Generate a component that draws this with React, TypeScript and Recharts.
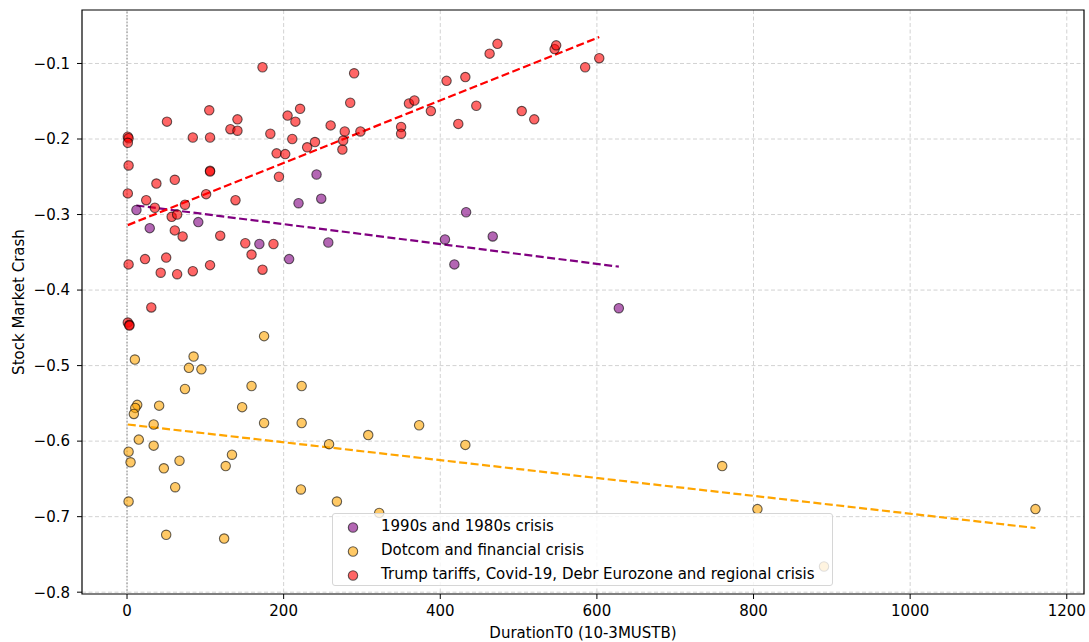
import React from 'react';
import { ComposedChart, Scatter, Line, XAxis, YAxis, CartesianGrid, ReferenceLine, ReferenceArea, Legend } from 'recharts';

const FONT = '"DejaVu Sans", Verdana, sans-serif';

// 1990s and 1980s crisis
const purpleX = [12, 29, 91, 169, 207, 219, 242, 248, 257, 406, 418, 433, 467, 628];
const purpleY = [-0.294, -0.318, -0.31, -0.339, -0.359, -0.285, -0.247, -0.279, -0.337, -0.333, -0.366, -0.297, -0.329, -0.424];

// Dotcom and financial crisis
const orangeX = [10, 85, 79, 95, 175, 74, 159, 223, 13, 10.5, 8.7, 41, 147, 34, 175, 223, 15, 34, 2, 4.5, 47, 67, 134, 126, 61.5, 222, 2, 50, 124, 258, 308, 268, 322, 373, 432, 760, 805, 890, 1160];
const orangeY = [-0.492, -0.488, -0.503, -0.505, -0.461, -0.531, -0.527, -0.527, -0.552, -0.556, -0.564, -0.553, -0.555, -0.578, -0.576, -0.576, -0.598, -0.606, -0.614, -0.628, -0.636, -0.626, -0.618, -0.633, -0.661, -0.664, -0.68, -0.724, -0.729, -0.604, -0.592, -0.68, -0.695, -0.579, -0.605, -0.633, -0.69, -0.766, -0.69];

// Trump tariffs, Covid-19, Debr Eurozone and regional crisis
const redX = [1, 2, 1, 2, 1, 2, 1, 3, 3, 24.5, 37.5, 35.5, 23, 31, 51, 61, 57, 64, 61, 71, 50, 43, 64, 74, 84, 105, 106, 106, 106, 101, 84, 106, 119, 132, 141, 141, 138.5, 151, 159, 173, 173, 183, 187, 191, 194, 202, 205, 211, 215, 221, 230, 240, 260, 275, 276, 278, 285, 290, 298, 350, 350, 360, 367, 388, 408, 423, 432, 446, 463, 473, 504, 520, 546, 548, 585, 603];
const redY = [-0.197, -0.199, -0.205, -0.235, -0.272, -0.366, -0.443, -0.446, -0.447, -0.281, -0.259, -0.291, -0.359, -0.423, -0.177, -0.254, -0.303, -0.3, -0.321, -0.329, -0.357, -0.377, -0.379, -0.287, -0.198, -0.162, -0.198, -0.242, -0.243, -0.273, -0.375, -0.367, -0.328, -0.187, -0.174, -0.189, -0.281, -0.338, -0.353, -0.373, -0.105, -0.193, -0.339, -0.219, -0.25, -0.22, -0.169, -0.2, -0.177, -0.16, -0.211, -0.204, -0.182, -0.214, -0.202, -0.19, -0.152, -0.113, -0.19, -0.184, -0.193, -0.153, -0.149, -0.163, -0.123, -0.18, -0.118, -0.156, -0.087, -0.074, -0.163, -0.174, -0.081, -0.076, -0.105, -0.093];

// Trend line end points
const purpleTrendX = [12, 628];
const purpleTrendY = [-0.288, -0.369];
const orangeTrendX = [1, 1160];
const orangeTrendY = [-0.578, -0.715];
const redTrendX = [1, 603];
const redTrendY = [-0.314, -0.065];

const xTicks = [0, 200, 400, 600, 800, 1000, 1200];
const yTicks = [-0.8, -0.7, -0.6, -0.5, -0.4, -0.3, -0.2, -0.1];

const X_DOMAIN: [number, number] = [-57.5, 1222];
const Y_DOMAIN: [number, number] = [-0.8024, -0.0292];

const zip = (xs: number[], ys: number[]) => xs.map((x, i) => ({ x, y: ys[i] }));

const purpleData = zip(purpleX, purpleY);
const orangeData = zip(orangeX, orangeY);
const redData = zip(redX, redY);
const purpleTrend = zip(purpleTrendX, purpleTrendY);
const orangeTrend = zip(orangeTrendX, orangeTrendY);
const redTrend = zip(redTrendX, redTrendY);

const makeDot = (color: string) => (p: any) => (
  <circle cx={p.cx} cy={p.cy} r={4.7} fill={color} fillOpacity={0.6} stroke="#000" strokeOpacity={0.6} strokeWidth={1.1} />
);

const fmtY = (v: number) => v.toFixed(1).replace('-', '\u2212');

const LegendBox = (props: any) => {
  const items = (props.payload || []).filter((e: any) => e.type !== 'none');
  return (
    <div
      style={{
        width: 501,
        height: 73,
        boxSizing: 'border-box',
        background: 'rgba(255,255,255,0.8)',
        border: '1px solid #d6d6d6',
        borderRadius: 3,
        paddingTop: 1,
        fontFamily: FONT,
        fontSize: 15,
        color: '#000',
      }}
    >
      {items.map((e: any) => (
        <div key={e.value} style={{ height: 23.7, display: 'flex', alignItems: 'center' }}>
          <svg width={48} height={23} style={{ flex: 'none' }}>
            <circle cx={20} cy={12.5} r={4.7} fill={e.color} fillOpacity={0.6} stroke="#000" strokeOpacity={0.6} strokeWidth={1.1} />
          </svg>
          <span style={{ whiteSpace: 'nowrap', lineHeight: '23px' }}>{e.value}</span>
        </div>
      ))}
    </div>
  );
};

export default function App() {
  return (
    <div style={{ position: 'absolute', left: 0, top: 0, width: 1089, height: 642, background: '#fff' }}>
      <ComposedChart width={1089} height={642} margin={{ top: 10, right: 5, left: 0, bottom: 0 }}>
        <CartesianGrid stroke="#d2d2d2" strokeDasharray="4 2.5" strokeWidth={1} horizontalValues={yTicks} verticalValues={xTicks} />
        <XAxis
          type="number"
          dataKey="x"
          domain={X_DOMAIN}
          allowDataOverflow
          ticks={xTicks}
          height={48}
          tickSize={5}
          tickMargin={6}
          axisLine={false}
          tickLine={{ stroke: '#000' }}
          tick={{ fill: '#000', fontSize: 15, fontFamily: FONT }}
          label={(p: any) => {
            const vb = p.viewBox || { x: 82, y: 594, width: 1002 };
            return (
              <text x={vb.x + vb.width / 2} y={638} textAnchor="middle" fill="#000" fontSize={15} fontFamily={FONT}>
                DurationT0 (10-3MUSTB)
              </text>
            );
          }}
        />
        <YAxis
          type="number"
          dataKey="y"
          domain={Y_DOMAIN}
          allowDataOverflow
          ticks={yTicks}
          width={82}
          tickSize={5}
          tickMargin={7}
          axisLine={false}
          tickLine={{ stroke: '#000' }}
          tickFormatter={fmtY}
          tick={{ fill: '#000', fontSize: 15, fontFamily: FONT }}
          label={(p: any) => {
            const vb = p.viewBox || { x: 0, y: 10, height: 584 };
            const cy = vb.y + vb.height / 2;
            return (
              <text x={24} y={cy} transform={`rotate(-90 24 ${cy})`} textAnchor="middle" fill="#000" fontSize={15} fontFamily={FONT}>
                Stock Market Crash
              </text>
            );
          }}
        />
        <ReferenceLine x={0} stroke="#9a9a9a" strokeDasharray="1.5 1.8" strokeWidth={1.2} />
        <Scatter name="1990s and 1980s crisis" data={purpleData} fill="#800080" shape={makeDot('#800080')} isAnimationActive={false} />
        <Scatter name="Dotcom and financial crisis" data={orangeData} fill="#FFA500" shape={makeDot('#FFA500')} isAnimationActive={false} />
        <Scatter name="Trump tariffs, Covid-19, Debr Eurozone and regional crisis" data={redData} fill="#FF0000" shape={makeDot('#FF0000')} isAnimationActive={false} />
        <Line data={purpleTrend} dataKey="y" stroke="#800080" strokeWidth={2.2} strokeDasharray="8 3.5" dot={false} activeDot={false} legendType="none" isAnimationActive={false} />
        <Line data={orangeTrend} dataKey="y" stroke="#FFA500" strokeWidth={2.2} strokeDasharray="8 3.5" dot={false} activeDot={false} legendType="none" isAnimationActive={false} />
        <Line data={redTrend} dataKey="y" stroke="#FF0000" strokeWidth={2.2} strokeDasharray="8 3.5" dot={false} activeDot={false} legendType="none" isAnimationActive={false} />
        <ReferenceArea x1={X_DOMAIN[0]} x2={X_DOMAIN[1]} y1={Y_DOMAIN[0]} y2={Y_DOMAIN[1]} fill="none" fillOpacity={0} stroke="#000" strokeWidth={1.2} />
        <Legend
          layout="vertical"
          align="center"
          verticalAlign="middle"
          content={LegendBox}
          wrapperStyle={{ position: 'absolute', left: 332, top: 513, width: 501, height: 73 }}
        />
      </ComposedChart>
    </div>
  );
}
